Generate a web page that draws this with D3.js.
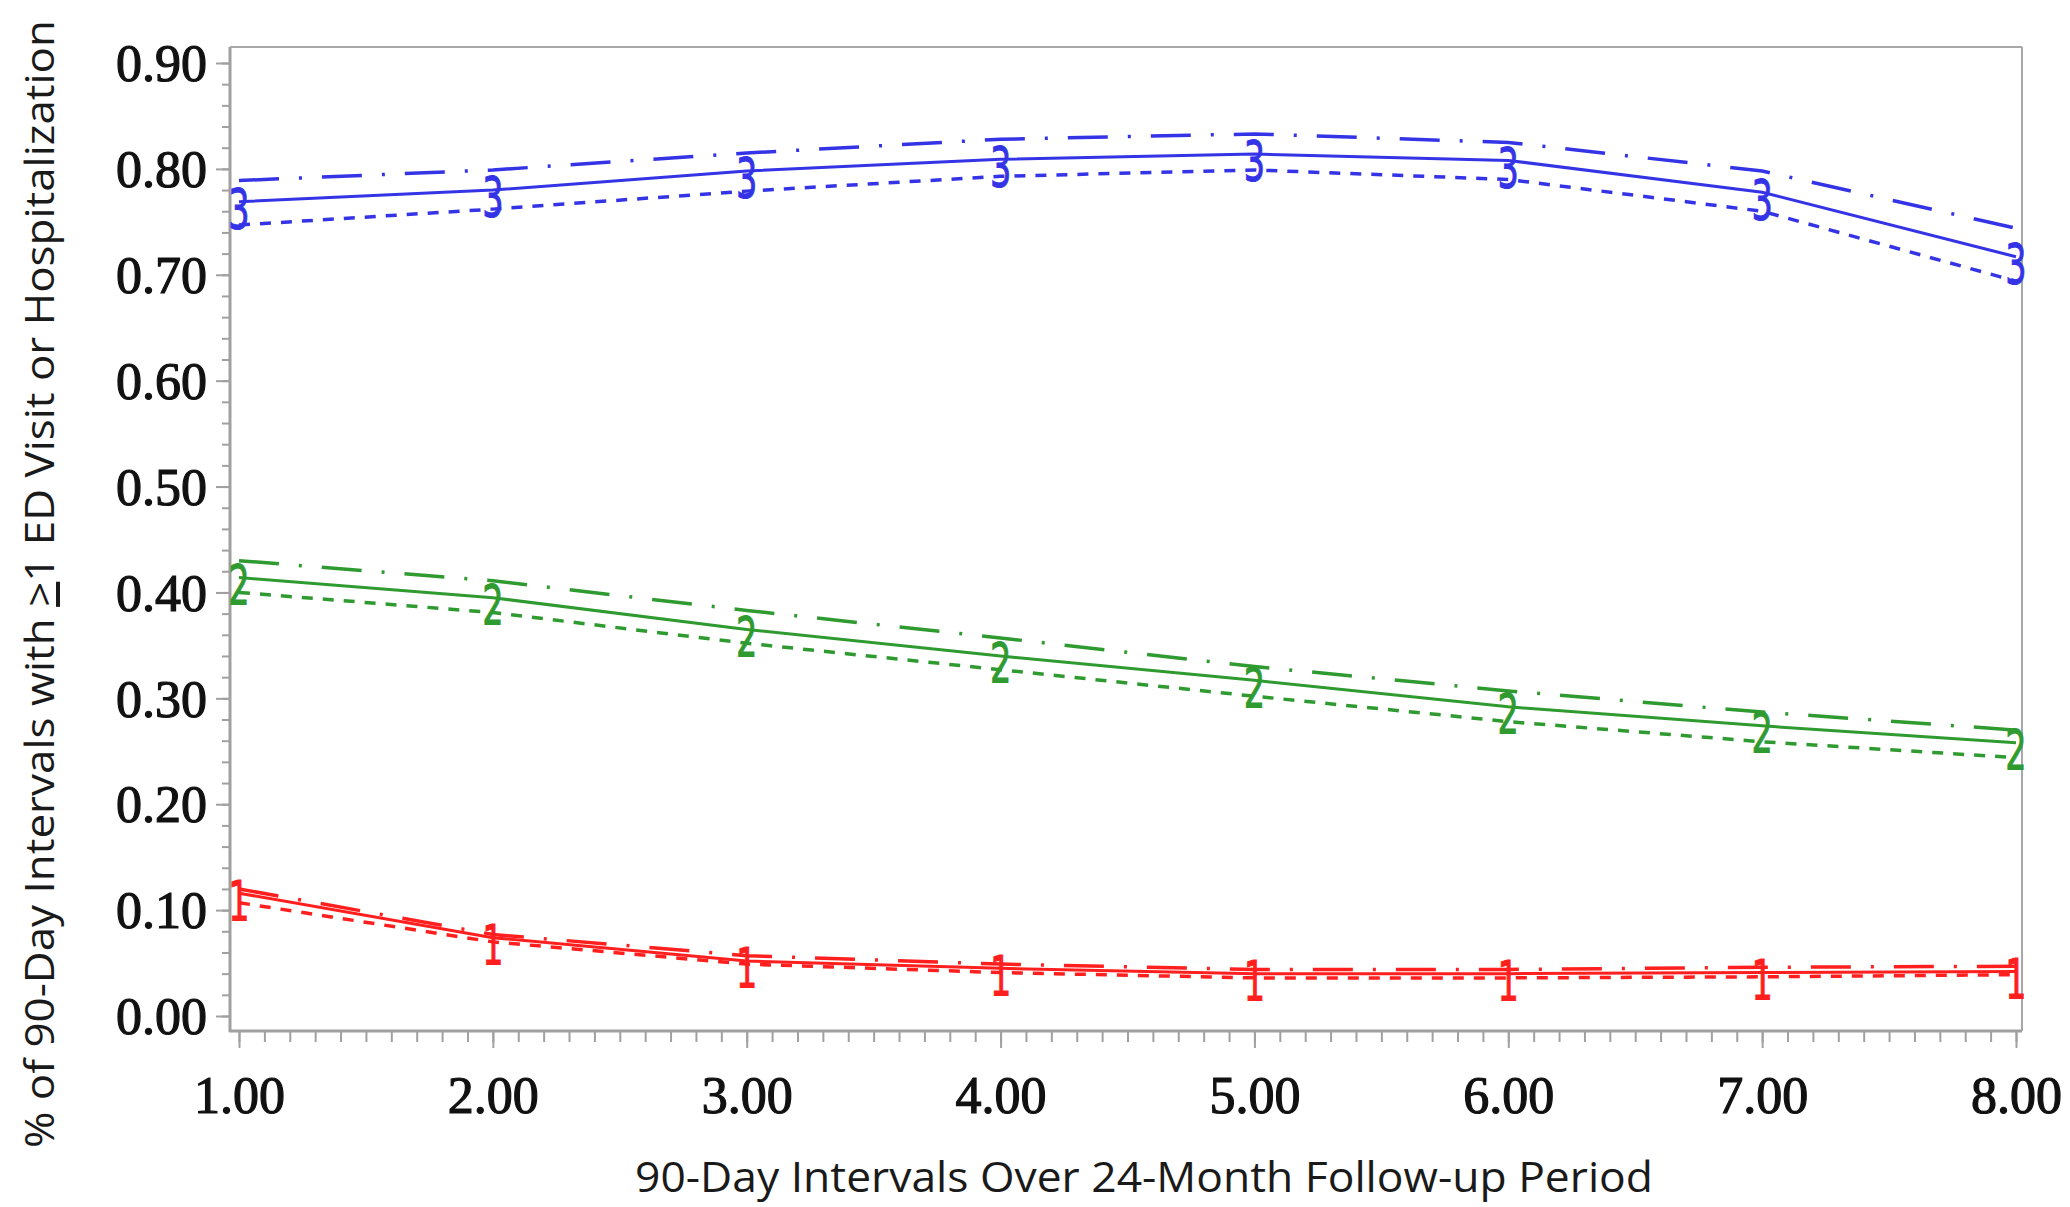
<!DOCTYPE html>
<html>
<head>
<meta charset="utf-8">
<script src="https://cdn.jsdelivr.net/npm/d3@7"></script>
<style>
  html, body { margin: 0; padding: 0; background: #fff; }
  svg { display: block; }
</style>
</head>
<body>
<svg id="chart" width="2070" height="1207"></svg>
<script>
// ---- Data ----
const intervals = [1, 2, 3, 4, 5, 6, 7, 8];
const groups = ["1", "2", "3"];

const group3Mean  = [0.769, 0.780, 0.798, 0.809, 0.814, 0.808, 0.778, 0.717];
const group3Upper = [0.789, 0.799, 0.815, 0.828, 0.833, 0.825, 0.798, 0.744];
const group3Lower = [0.747, 0.762, 0.779, 0.793, 0.799, 0.790, 0.760, 0.694];

const group2Mean  = [0.414, 0.395, 0.365, 0.340, 0.317, 0.292, 0.274, 0.258];
const group2Upper = [0.430, 0.411, 0.383, 0.357, 0.330, 0.307, 0.287, 0.270];
const group2Lower = [0.400, 0.381, 0.352, 0.327, 0.302, 0.278, 0.259, 0.244];

const group1Mean  = [0.116, 0.074, 0.052, 0.045, 0.040, 0.040, 0.041, 0.042];
const group1Upper = [0.120, 0.077, 0.057, 0.049, 0.044, 0.044, 0.046, 0.047];
const group1Lower = [0.107, 0.070, 0.049, 0.041, 0.036, 0.036, 0.037, 0.039];

const yTickValues = [0, 0.1, 0.2, 0.3, 0.4, 0.5, 0.6, 0.7, 0.8, 0.9];
const xTickValues = [1, 2, 3, 4, 5, 6, 7, 8];

const xTitle = "90-Day Intervals Over 24-Month Follow-up Period";
const yTitleParts = ["% of 90-Day Intervals with ", ">", "1 ED Visit or Hospitalization"];

// ---- Styling / layout ----
const colors = { "1": "#ff1f1f", "2": "#2f9a2f", "3": "#3434e6" };
const series = [
  { g: "3", mean: group3Mean, upper: group3Upper, lower: group3Lower },
  { g: "2", mean: group2Mean, upper: group2Upper, lower: group2Lower },
  { g: "1", mean: group1Mean, upper: group1Upper, lower: group1Lower }
];

const frame = { left: 230, right: 2022, top: 47, bottom: 1031 };
const svg = d3.select("#chart");

const x = d3.scaleLinear().domain([1, 8]).range([239, 2016]);
const y = d3.scaleLinear().domain([0, 0.9]).range([1016, 63]);

// frame (top and right thin)
svg.append("line").attr("x1", frame.left).attr("x2", frame.right)
  .attr("y1", frame.top).attr("y2", frame.top)
  .attr("stroke", "#a8a8a8").attr("stroke-width", 2);
svg.append("line").attr("x1", frame.right).attr("x2", frame.right)
  .attr("y1", frame.top).attr("y2", frame.bottom)
  .attr("stroke", "#a8a8a8").attr("stroke-width", 2);

// ---- Y axis ----
const yMinor = d3.range(0, 0.9001, 0.02);
const yAxisMinor = d3.axisLeft(y).tickValues(yMinor).tickSize(8).tickFormat("");
const gyMinor = svg.append("g").attr("transform", `translate(${frame.left},0)`).call(yAxisMinor);
const yAxis = d3.axisLeft(y).tickValues(yTickValues).tickSize(14).tickPadding(10)
  .tickFormat(d3.format(".2f"));
const gy = svg.append("g").attr("transform", `translate(${frame.left},0)`).call(yAxis);

// ---- X axis ----
const xMinor = d3.range(1, 8.0001, 0.1);
const xAxisMinor = d3.axisBottom(x).tickValues(xMinor).tickSize(11).tickFormat("");
const gxMinor = svg.append("g").attr("transform", `translate(0,${frame.bottom})`).call(xAxisMinor);
const xAxis = d3.axisBottom(x).tickValues(xTickValues).tickSize(17).tickPadding(28)
  .tickFormat(d3.format(".2f"));
const gx = svg.append("g").attr("transform", `translate(0,${frame.bottom})`).call(xAxis);

[gyMinor, gy, gxMinor, gx].forEach(g => {
  g.select(".domain").remove();
  g.selectAll(".tick line").attr("stroke", "#a0a0a0").attr("stroke-width", 2);
});
gy.selectAll(".tick text")
  .attr("font-family", "'Liberation Serif', serif")
  .attr("font-size", 52).attr("fill", "#111")
  .attr("stroke", "#111").attr("stroke-width", 1.2)
  .attr("x", -23).attr("dy", "0.34em");
gx.selectAll(".tick text")
  .attr("font-family", "'Liberation Serif', serif")
  .attr("font-size", 52).attr("fill", "#111")
  .attr("stroke", "#111").attr("stroke-width", 1.2);

// axis lines (left and bottom, thicker)
svg.append("line").attr("x1", frame.left).attr("x2", frame.left)
  .attr("y1", frame.top).attr("y2", frame.bottom + 1)
  .attr("stroke", "#a0a0a0").attr("stroke-width", 3);
svg.append("line").attr("x1", frame.left - 1).attr("x2", frame.right)
  .attr("y1", frame.bottom).attr("y2", frame.bottom)
  .attr("stroke", "#a0a0a0").attr("stroke-width", 3);

// ---- Lines ----
const line = d3.line().x((d, i) => x(intervals[i])).y(d => y(d));
const plot = svg.append("g");

series.forEach(s => {
  const c = colors[s.g];
  plot.append("path").datum(s.lower).attr("d", line)
    .attr("fill", "none").attr("stroke", c).attr("stroke-width", 3.5)
    .attr("stroke-dasharray", "11,10");
  plot.append("path").datum(s.upper).attr("d", line)
    .attr("fill", "none").attr("stroke", c).attr("stroke-width", 3.5)
    .attr("stroke-dasharray", "40,20,3,20");
  plot.append("path").datum(s.mean).attr("d", line)
    .attr("fill", "none").attr("stroke", c).attr("stroke-width", 3);
  // numeric markers
  plot.selectAll(null).data(s.mean).enter().append("text")
    .attr("transform", (d, i) => `translate(${x(intervals[i])},${y(d) + 7}) scale(0.6,1)`)
    .attr("text-anchor", "middle").attr("dominant-baseline", "central")
    .attr("font-family", "'DejaVu Sans', sans-serif").attr("font-size", 56)
    .attr("fill", c).attr("stroke", c).attr("stroke-width", 1)
    .text(s.g);
});

// ---- Titles ----
svg.append("text")
  .attr("x", 1144).attr("y", 1192)
  .attr("text-anchor", "middle")
  .attr("font-family", "'Open Sans', sans-serif").attr("font-size", 42)
  .attr("fill", "#1a1a1a")
  .attr("textLength", 1018).attr("lengthAdjust", "spacingAndGlyphs")
  .text(xTitle);

const yt = svg.append("text")
  .attr("transform", "translate(54,584) rotate(-90)")
  .attr("text-anchor", "middle")
  .attr("font-family", "'Open Sans', sans-serif").attr("font-size", 40)
  .attr("fill", "#1a1a1a")
  .attr("textLength", 1128).attr("lengthAdjust", "spacingAndGlyphs");
yt.append("tspan").text(yTitleParts[0]);
yt.append("tspan").attr("text-decoration", "underline").text(yTitleParts[1]);
yt.append("tspan").text(yTitleParts[2]);
</script>
</body>
</html>
